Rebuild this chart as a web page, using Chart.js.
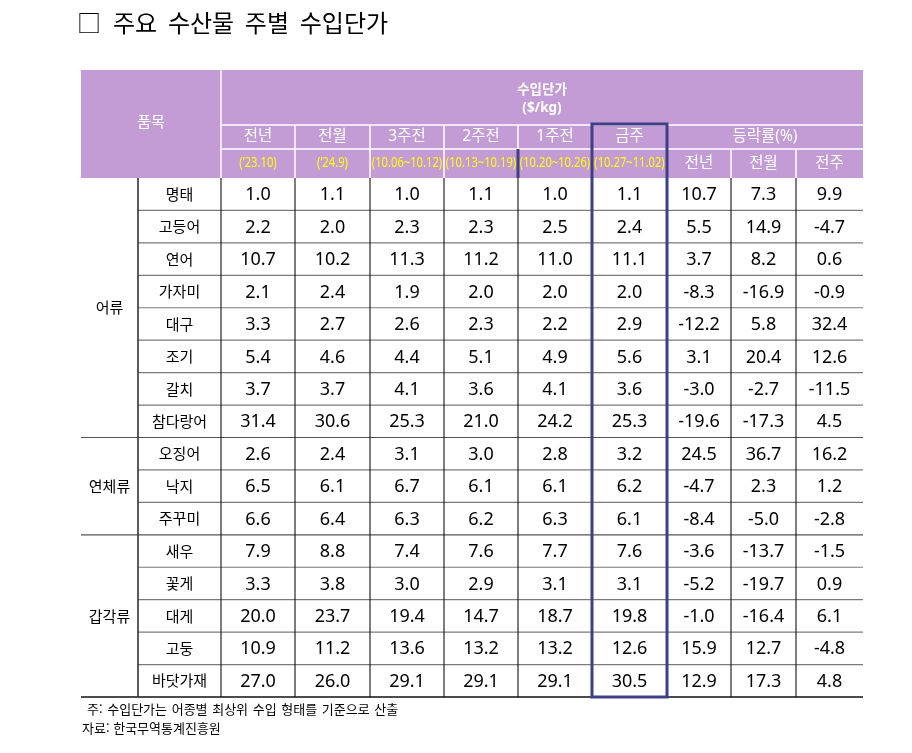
<!DOCTYPE html>
<html lang="ko">
<head>
<meta charset="utf-8">
<script src="https://cdn.jsdelivr.net/npm/chart.js@4.4.1/dist/chart.umd.min.js"></script>
<style>
  html, body { margin: 0; padding: 0; background: #fff; }
  #wrap { position: relative; width: 912px; height: 753px; overflow: hidden; }
  canvas { position: absolute; left: 0; top: 0; }
  .txt { position: absolute; white-space: nowrap; color: #000; font-family: "Noto Sans CJK KR", "Noto Sans", sans-serif; }
  #sq { left: 77px; top: 6px; font-size: 24px; line-height: 32px; }
  #title { left: 113px; top: 6px; font-size: 24px; line-height: 32px; word-spacing: 4px; }
  #note1 { left: 87px; top: 700px; font-size: 13px; line-height: 18px; word-spacing: 1px; }
  #note2 { left: 82px; top: 719px; font-size: 13px; line-height: 18px; }
</style>
</head>
<body>
<div id="wrap">
  <canvas id="c" width="912" height="753"></canvas>
  <div class="txt" id="sq">□</div>
  <div class="txt" id="title">주요 수산물 주별 수입단가</div>
  <div class="txt" id="note1">주: 수입단가는 어종별 최상위 수입 형태를 기준으로 산출</div>
  <div class="txt" id="note2">자료: 한국무역통계진흥원</div>
</div>
<script>
// ---------------- DATA ----------------
const groups = ['어류', '연체류', '갑각류'];
const groupSizes = [8, 3, 5];
const items = ['명태','고등어','연어','가자미','대구','조기','갈치','참다랑어','오징어','낙지','주꾸미','새우','꽃게','대게','고둥','바닷가재'];

const priceHeaders = ['전년', '전월', '3주전', '2주전', '1주전', '금주'];
const priceDates = ['(’23.10)', '(’24.9)', '(10.06~10.12)', '(10.13~10.19)', '(10.20~10.26)', '(10.27~11.02)'];
const changeHeaders = ['전년', '전월', '전주'];

const priceLastYear  = [1.0, 2.2, 10.7, 2.1, 3.3, 5.4, 3.7, 31.4, 2.6, 6.5, 6.6, 7.9, 3.3, 20.0, 10.9, 27.0];
const priceLastMonth = [1.1, 2.0, 10.2, 2.4, 2.7, 4.6, 3.7, 30.6, 2.4, 6.1, 6.4, 8.8, 3.8, 23.7, 11.2, 26.0];
const price3Weeks    = [1.0, 2.3, 11.3, 1.9, 2.6, 4.4, 4.1, 25.3, 3.1, 6.7, 6.3, 7.4, 3.0, 19.4, 13.6, 29.1];
const price2Weeks    = [1.1, 2.3, 11.2, 2.0, 2.3, 5.1, 3.6, 21.0, 3.0, 6.1, 6.2, 7.6, 2.9, 14.7, 13.2, 29.1];
const price1Week     = [1.0, 2.5, 11.0, 2.0, 2.2, 4.9, 4.1, 24.2, 2.8, 6.1, 6.3, 7.7, 3.1, 18.7, 13.2, 29.1];
const priceThisWeek  = [1.1, 2.4, 11.1, 2.0, 2.9, 5.6, 3.6, 25.3, 3.2, 6.2, 6.1, 7.6, 3.1, 19.8, 12.6, 30.5];
const changeVsYear   = [10.7, 5.5, 3.7, -8.3, -12.2, 3.1, -3.0, -19.6, 24.5, -4.7, -8.4, -3.6, -5.2, -1.0, 15.9, 12.9];
const changeVsMonth  = [7.3, 14.9, 8.2, -16.9, 5.8, 20.4, -2.7, -17.3, 36.7, 2.3, -5.0, -13.7, -19.7, -16.4, 12.7, 17.3];
const changeVsWeek   = [9.9, -4.7, 0.6, -0.9, 32.4, 12.6, -11.5, 4.5, 16.2, 1.2, -2.8, -1.5, 0.9, 6.1, -4.8, 4.8];

const valueSeries = [priceLastYear, priceLastMonth, price3Weeks, price2Weeks, price1Week, priceThisWeek,
                     changeVsYear, changeVsMonth, changeVsWeek];

// ---------------- LAYOUT (x units along table width, y units = data rows) ----------------
const colEdges = [0, 57, 140, 214, 289, 363, 437, 511, 586, 650, 715, 782];
const ROW_PX = (697 - 178) / 16;
const H1 = -108 / ROW_PX;         // header top
const H2 = -53 / ROW_PX;          // second header row top
const H3 = -29 / ROW_PX;          // third header row top
const HIGHLIGHT_COL = 7;          // 금주 column index in colEdges

const colCenter = k => (colEdges[k] + colEdges[k + 1]) / 2;
const FONT = '"Noto Sans", "Noto Sans CJK KR", sans-serif';
const KFONT = '"Noto Sans CJK KR", "Noto Sans", sans-serif';

const datasets = valueSeries.map((vals, s) => ({
  label: s < 6 ? priceHeaders[s] : changeHeaders[s - 6],
  data: vals.map((v, i) => ({ x: colCenter(s + 2), y: i + 0.5, v })),
  pointRadius: 0,
  showLine: false
}));

function line(ctx, x1, y1, x2, y2) {
  ctx.beginPath(); ctx.moveTo(x1, y1); ctx.lineTo(x2, y2); ctx.stroke();
}

const tablePlugin = {
  id: 'table',
  beforeDatasetsDraw(chart) {
    const ctx = chart.ctx, xs = chart.scales.x, ys = chart.scales.y;
    const X = v => xs.getPixelForValue(v), Y = v => ys.getPixelForValue(v);
    ctx.save();
    // header background
    ctx.fillStyle = '#C49CD5';
    ctx.fillRect(X(0), Y(H1), X(782) - X(0), Y(0) - Y(H1));
    // white header lines
    ctx.strokeStyle = '#ffffff'; ctx.lineWidth = 1.5;
    line(ctx, X(140), Y(H1), X(140), Y(0));
    line(ctx, X(140), Y(H2), X(782), Y(H2));
    line(ctx, X(140), Y(H3), X(782), Y(H3));
    for (let k = 3; k <= 8; k++) line(ctx, X(colEdges[k]), Y(H2), X(colEdges[k]), Y(0));
    line(ctx, X(colEdges[9]), Y(H3), X(colEdges[9]), Y(0));
    line(ctx, X(colEdges[10]), Y(H3), X(colEdges[10]), Y(0));
    // dark segment in date row
    ctx.strokeStyle = '#3F3F87'; ctx.lineWidth = 3;
    line(ctx, X(colEdges[6]), Y(H3), X(colEdges[6]), Y(0));

    // data horizontal lines
    let cum = 0; const groupBreaks = groupSizes.map(n => (cum += n));
    for (let i = 1; i <= 16; i++) {
      const isGroup = groupBreaks.includes(i);
      ctx.strokeStyle = i === 16 ? '#111' : (isGroup ? '#555' : '#7a7a7a');
      ctx.lineWidth = i === 16 ? 1.5 : 1.2;
      line(ctx, X(isGroup ? 0 : colEdges[1]), Y(i), X(782), Y(i));
    }
    // vertical lines
    ctx.strokeStyle = '#333'; ctx.lineWidth = 1.6;
    line(ctx, X(colEdges[1]), Y(0), X(colEdges[1]), Y(16));
    ctx.strokeStyle = '#111'; ctx.lineWidth = 1.1;
    for (let k = 2; k <= 10; k++) line(ctx, X(colEdges[k]), Y(0), X(colEdges[k]), Y(16));

    // header texts
    ctx.textAlign = 'center'; ctx.textBaseline = 'middle';
    ctx.fillStyle = '#ffffff';
    ctx.font = `15px ${FONT}`;
    ctx.fillText('품목', X(70), Y(H1 / 2) - 1);
    ctx.font = `bold 13.5px ${FONT}`;
    ctx.fillText('수입단가', X(461), Y(H1) + 20);
    ctx.fillText('($/kg)', X(461), Y(H1) + 38);
    ctx.font = `15.5px ${FONT}`;
    priceHeaders.forEach((h, k) => ctx.fillText(h, X(colCenter(k + 2)), Y((H2 + H3) / 2)));
    ctx.fillText('등락률(%)', X((colEdges[8] + colEdges[11]) / 2), Y((H2 + H3) / 2));
    changeHeaders.forEach((h, k) => ctx.fillText(h, X(colCenter(k + 8)), Y(H3 / 2)));
    ctx.fillStyle = '#FFFF00';
    ctx.font = `14px ${FONT}`;
    priceDates.forEach((d, k) => {
      const cx = X(colCenter(k + 2)), cy = Y(H3 / 2);
      ctx.save(); ctx.translate(cx, cy); ctx.scale(0.8, 1);
      ctx.fillText(d, 0, 0, 90);
      ctx.restore();
    });

    // group and item labels
    ctx.fillStyle = '#000';
    ctx.font = `15px ${KFONT}`;
    let start = 0;
    groups.forEach((g, gi) => {
      ctx.fillText(g, X(colCenter(0)), Y(start + groupSizes[gi] / 2));
      start += groupSizes[gi];
    });
    items.forEach((it, i) => ctx.fillText(it, X(colCenter(1)), Y(i + 0.5)));
    ctx.restore();
  },
  afterDatasetsDraw(chart) {
    const ctx = chart.ctx, xs = chart.scales.x, ys = chart.scales.y;
    const X = v => xs.getPixelForValue(v), Y = v => ys.getPixelForValue(v);
    ctx.save();
    ctx.fillStyle = '#000';
    ctx.font = `18px ${FONT}`;
    ctx.textAlign = 'center'; ctx.textBaseline = 'middle';
    chart.data.datasets.forEach((ds, s) => {
      const meta = chart.getDatasetMeta(s);
      meta.data.forEach((el, i) => {
        ctx.fillText(ds.data[i].v.toFixed(1), el.x, el.y + 1);
      });
    });
    // highlight box for 금주
    ctx.strokeStyle = '#3F3F87'; ctx.lineWidth = 3;
    const top = Y(H2) - 1;
    ctx.strokeRect(X(colEdges[HIGHLIGHT_COL]), top, X(colEdges[HIGHLIGHT_COL + 1]) - X(colEdges[HIGHLIGHT_COL]), Y(16) - top);
    ctx.restore();
  }
};

new Chart(document.getElementById('c'), {
  type: 'scatter',
  data: { datasets },
  options: {
    responsive: false,
    animation: false,
    events: [],
    layout: { padding: { left: 81, top: 70, right: 49, bottom: 56 } },
    plugins: { legend: { display: false }, tooltip: { enabled: false }, title: { display: false } },
    scales: {
      x: { type: 'linear', display: false, min: 0, max: 782 },
      y: { type: 'linear', display: false, min: H1, max: 16, reverse: true }
    }
  },
  plugins: [tablePlugin]
});
</script>
</body>
</html>
